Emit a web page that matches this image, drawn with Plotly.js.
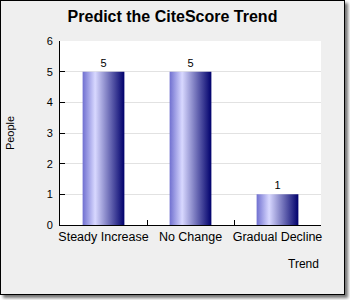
<!DOCTYPE html>
<html>
<head>
<meta charset="utf-8">
<script src="https://cdn.plot.ly/plotly-3.0.1.min.js"></script>
<style>
  html, body { margin: 0; padding: 0; background: #ffffff; }
  #wrap { position: relative; width: 350px; height: 300px; overflow: hidden; background: #ffffff; }
  #chart { position: absolute; left: 0; top: 0; width: 345px; height: 295px; }
  #frame { position: absolute; left: 0; top: 0; width: 345px; height: 295px; box-sizing: border-box;
           border: 1px solid #000000; box-shadow: 3px 3px 3px rgba(0,0,0,0.55); pointer-events: none; }
</style>
</head>
<body>
<div id="wrap">
  <div id="chart"></div>
  <div id="frame"></div>
</div>
<script>
const categories = ["Steady Increase", "No Change", "Gradual Decline"];
const people = [5, 5, 1];
const yTicks = [0, 1, 2, 3, 4, 5, 6];

const FONT = "Liberation Sans, Arial, sans-serif";

const trace = {
  type: "bar",
  x: categories,
  y: people,
  text: people.map(String),
  textposition: "outside",
  cliponaxis: false,
  textfont: { family: FONT, size: 11, color: "#000000" },
  marker: { color: "#8080d8", line: { width: 0 } },
  hoverinfo: "skip"
};

const layout = {
  width: 345,
  height: 295,
  margin: { l: 60, r: 24, t: 41, b: 70 },
  paper_bgcolor: "#efefef",
  plot_bgcolor: "#ffffff",
  showlegend: false,
  bargap: 0.52,
  title: {
    text: "<b>Predict the CiteScore Trend</b>",
    font: { family: FONT, size: 16, color: "#000000" },
    x: 0.5, xanchor: "center", xref: "container",
    y: 1 - 16 / 295, yref: "container", yanchor: "middle"
  },
  font: { family: FONT, size: 12, color: "#000000" },
  xaxis: {
    type: "category",
    tickson: "boundaries",
    ticks: "inside",
    ticklen: 5,
    tickcolor: "#000000",
    tickangle: 0,
    showline: true,
    linecolor: "#000000",
    linewidth: 1,
    showgrid: false,
    tickfont: { family: FONT, size: 12.5, color: "#000000" },
    fixedrange: true
  },
  yaxis: {
    range: [0, 6],
    tickvals: yTicks,
    ticktext: yTicks.map(String),
    ticks: "inside",
    ticklen: 5,
    tickcolor: "#000000",
    showline: true,
    linecolor: "#000000",
    linewidth: 1,
    showgrid: true,
    gridcolor: "#e2e2e2",
    zeroline: false,
    ticklabelstandoff: 4,
    tickfont: { family: FONT, size: 11, color: "#000000" },
    title: { text: "People", font: { family: FONT, size: 11, color: "#000000" }, standoff: 29 },
    fixedrange: true
  },
  annotations: [{
    text: "Trend",
    xref: "paper", yref: "paper",
    x: 1, xanchor: "right",
    y: -0.21, yanchor: "middle",
    showarrow: false,
    font: { family: FONT, size: 12, color: "#000000" }
  }]
};

Plotly.newPlot("chart", [trace], layout, { staticPlot: true, displayModeBar: false }).then(function (gd) {
  const svg = gd.querySelector("svg.main-svg");
  const ns = "http://www.w3.org/2000/svg";
  let defs = svg.querySelector("defs");
  if (!defs) { defs = document.createElementNS(ns, "defs"); svg.insertBefore(defs, svg.firstChild); }
  const grad = document.createElementNS(ns, "linearGradient");
  grad.setAttribute("id", "barGrad");
  grad.setAttribute("x1", "0"); grad.setAttribute("y1", "0");
  grad.setAttribute("x2", "1"); grad.setAttribute("y2", "0");
  [["0", "#7070d0"], ["0.3", "#d8d8ff"], ["1", "#00006c"]].forEach(function (s) {
    const st = document.createElementNS(ns, "stop");
    st.setAttribute("offset", s[0]);
    st.setAttribute("stop-color", s[1]);
    grad.appendChild(st);
  });
  defs.appendChild(grad);
  gd.querySelectorAll(".bars .point path").forEach(function (p) {
    p.style.fill = "url(#barGrad)";
  });
});
</script>
</body>
</html>
